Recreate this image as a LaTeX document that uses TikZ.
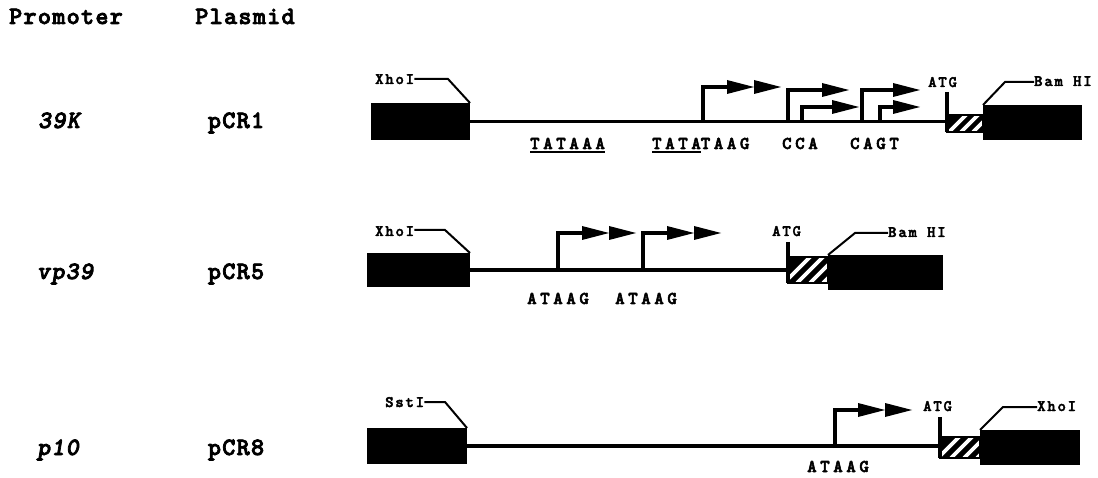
\documentclass[tikz,border=0pt]{standalone}
\usepackage{fontspec}
\newfontfamily\biglab{lmmonolt10-bold.otf}[LetterSpace=5,FakeBold=3]
\newfontfamily\bigitlab{lmmonolt10-boldoblique.otf}[LetterSpace=5,FakeBold=3]
\newfontfamily\seqlab{lmmonolt10-bold.otf}[LetterSpace=20,FakeBold=3]
\newfontfamily\sitelab{lmmonolt10-bold.otf}[LetterSpace=11,FakeBold=2.5]
\newcommand\ulbar[1]{\setbox0\hbox{#1}\rlap{\rule[-4pt]{\wd0}{2pt}}\box0}
\begin{document}
\begin{tikzpicture}[x=1pt,y=-1pt,
  gene/.style={fill=black,draw=none,inner sep=0,outer sep=0,anchor=north west},
  hatchbox/.style={fill=black,draw=none,inner sep=0,outer sep=0,anchor=north west},
  dna/.style={line width=3.6pt},
  prom/.style={line width=3.2pt},
  lead/.style={line width=2pt},
  hatchline/.style={line width=3.6pt,white},
  frame/.style={line width=2.4pt},
  bigl/.style={font=\biglab\fontsize{25}{27}\selectfont,inner sep=0,anchor=base},
  bigi/.style={font=\bigitlab\fontsize{25}{27}\selectfont,inner sep=0,anchor=base},
  seql/.style={font=\seqlab\fontsize{18}{20}\selectfont,inner sep=0,anchor=base west},
  sitel/.style={font=\sitelab\fontsize{16}{18}\selectfont,inner sep=0,anchor=base west},
  head/.pic={\fill (0,-7) -- (27,0) -- (0,7) -- cycle;}
]
\useasboundingbox (0,0) rectangle (1098,478);

% header and left labels
\node[bigl] (hp) at (66,24) {Promoter};
\node[bigl] (hq) at (245,24) {Plasmid};
\node[bigi] (pr1) at (59,128) {39K};
\node[bigl] (pl1) at (236,128) {pCR1};
\node[bigi] (pr2) at (65,279) {vp39};
\node[bigl] (pl2) at (236,279) {pCR5};
\node[bigi] (pr3) at (58,455) {p10};
\node[bigl] (pl3) at (236,455) {pCR8};

% ===== Row 1 =====
\node[gene,minimum width=99,minimum height=37] (b1l) at (371,103) {};
\node[hatchbox,minimum width=36,minimum height=17] (h1) at (947,115) {};
\node[gene,minimum width=99,minimum height=35] (b1r) at (983,105) {};
\draw[dna] (b1l.east) -- (b1l.east -| h1.west);
\begin{scope}
\clip (h1.south west) rectangle (h1.north east);
\foreach \d in {2,14,26} \draw[hatchline] ([xshift=\d pt]h1.south west) -- ++(20,-20);
\end{scope}
\draw[frame] (h1.south west) rectangle (h1.north east);
\coordinate (atg1) at (947,92);
\draw[prom] (atg1) -- (h1.south west);
\node[sitel] (tatg1) at (928,87) {ATG};
\node[sitel] (x1) at (375,84) {XhoI};
\coordinate (k1) at (448,79);
\draw[lead] (b1l.north east) -- (k1) -- (k1 -| x1.east);
\node[sitel] (bam1) at (1034,86) {Bam HI};
\coordinate (k1r) at (1005,82);
\draw[lead] (b1r.north west) -- (k1r) -- (k1r -| bam1.west);
% promoters
\coordinate (r1a) at (703,123); \coordinate (r1ah) at (727,87);
\draw[prom] (r1a) |- (r1ah); \pic at (r1ah) {head}; \pic at (754,87) {head};
\coordinate (r1b) at (788,123); \coordinate (r1bh) at (822,90);
\draw[prom] (r1b) |- (r1bh); \pic at (r1bh) {head};
\coordinate (r1c) at (802,123); \coordinate (r1ch) at (832,107);
\draw[prom] (r1c) |- (r1ch); \pic at (r1ch) {head};
\coordinate (r1d) at (862,123); \coordinate (r1dh) at (893,90);
\draw[prom] (r1d) |- (r1dh); \pic at (r1dh) {head};
\coordinate (r1e) at (880,123); \coordinate (r1eh) at (893,107);
\draw[prom] (r1e) |- (r1eh); \pic at (r1eh) {head};
% sequences
\node[seql] (s1) at (530,149) {\ulbar{TATAAA}};
\node[seql] (s2) at (652,149) {\ulbar{TATA}TAAG};
\node[seql] (s3) at (782,149) {CCA};
\node[seql] (s4) at (850,149) {CAGT};

% ===== Row 2 =====
\node[gene,minimum width=103,minimum height=34] (b2l) at (367,253) {};
\node[hatchbox,minimum width=40,minimum height=26] (h2) at (788,257) {};
\node[gene,minimum width=115,minimum height=35] (b2r) at (828,255) {};
\draw[dna] (b2l.east) -- (b2l.east -| h2.west);
\begin{scope}
\clip (h2.south west) rectangle (h2.north east);
\foreach \d in {-4,9,22,35} \draw[hatchline] ([xshift=\d pt]h2.south west) -- ++(30,-30);
\end{scope}
\draw[frame] (h2.south west) rectangle (h2.north east);
\coordinate (atg2) at (788,242);
\draw[prom] (atg2) -- (h2.south west);
\node[sitel] (tatg2) at (772,236) {ATG};
\node[sitel] (x2) at (375,236) {XhoI};
\coordinate (k2) at (445,230);
\draw[lead] (b2l.north east) -- (k2) -- (k2 -| x2.east);
\node[sitel] (bam2) at (888,237) {Bam HI};
\coordinate (k2r) at (855,233);
\draw[lead] (b2r.north west) -- (k2r) -- (k2r -| bam2.west);
\coordinate (r2a) at (558,271); \coordinate (r2ah) at (582,233);
\draw[prom] (r2a) |- (r2ah); \pic at (r2ah) {head}; \pic at (609,233) {head};
\coordinate (r2b) at (643,271); \coordinate (r2bh) at (667,233);
\draw[prom] (r2b) |- (r2bh); \pic at (r2bh) {head}; \pic at (694,233) {head};
\node[seql] (s5) at (527,304) {ATAAG};
\node[seql] (s6) at (615,304) {ATAAG};

% ===== Row 3 =====
\node[gene,minimum width=100,minimum height=36] (b3l) at (367,428) {};
\node[hatchbox,minimum width=40,minimum height=21] (h3) at (940,437) {};
\node[gene,minimum width=100,minimum height=35] (b3r) at (980,430) {};
\draw[dna] (b3l.east) -- (b3l.east -| h3.west);
\begin{scope}
\clip (h3.south west) rectangle (h3.north east);
\foreach \d in {-2,11,24,37} \draw[hatchline] ([xshift=\d pt]h3.south west) -- ++(25,-25);
\end{scope}
\draw[frame] (h3.south west) rectangle (h3.north east);
\coordinate (atg3) at (940,417);
\draw[prom] (atg3) -- (h3.south west);
\node[sitel] (tatg3) at (923,411) {ATG};
\node[sitel] (x3) at (385,407) {SstI};
\coordinate (k3) at (445,402);
\draw[lead] (b3l.north east) -- (k3) -- (k3 -| x3.east);
\node[sitel] (xr3) at (1037,411) {XhoI};
\coordinate (k3r) at (1003,407);
\draw[lead] (b3r.north west) -- (k3r) -- (k3r -| xr3.west);
\coordinate (r3a) at (835,448); \coordinate (r3ah) at (858,410);
\draw[prom] (r3a) |- (r3ah); \pic at (r3ah) {head}; \pic at (885,410) {head};
\node[seql] (s7) at (807,472) {ATAAG};
\end{tikzpicture}
\end{document}
